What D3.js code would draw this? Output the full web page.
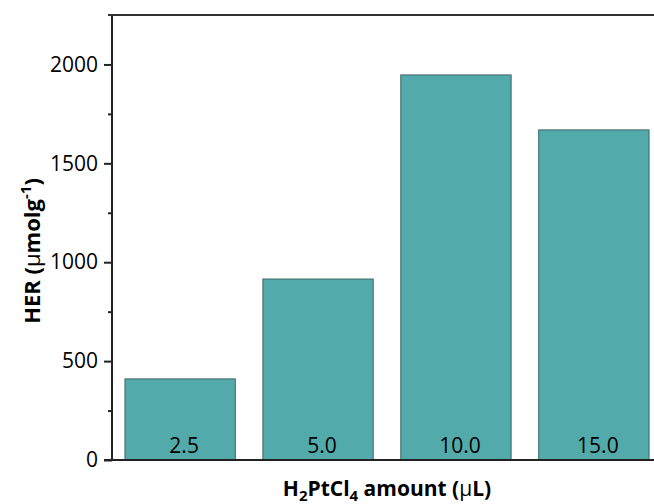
<!DOCTYPE html>
<html>
<head>
<meta charset="utf-8">
<script src="https://cdn.jsdelivr.net/npm/d3@7"></script>
<style>
  body { margin: 0; background: #fff; }
  svg { display: block; font-family: "Open Sans", sans-serif; }
</style>
</head>
<body>
<div id="chart"></div>
<script>
// data
var amounts = ["2.5", "5.0", "10.0", "15.0"];
var herValues = [410, 915, 1947, 1669];
var yTicks = [0, 500, 1000, 1500, 2000];
var yMinorTicks = [250, 750, 1250, 1750];

var svgW = 654;
var svgH = 504;
var margin = { top: 15, right: -8, bottom: 44, left: 112 };
var width = svgW - margin.left - margin.right;
var height = svgH - margin.top - margin.bottom;

var svg = d3.select("#chart")
  .append("svg")
  .attr("width", svgW)
  .attr("height", svgH);

var g = svg.append("g")
  .attr("transform", `translate(${margin.left}, ${margin.top})`);

// scales
var x = d3.scaleBand()
  .domain(amounts)
  .range([0, width])
  .paddingInner(0.2)
  .paddingOuter(0.094);

var y = d3.scaleLinear()
  .domain([0, 2250])
  .range([height, 0]);

// bars
g.selectAll("rect.bar")
  .data(amounts)
  .enter()
  .append("rect")
  .attr("class", "bar")
  .attr("x", d => x(d))
  .attr("y", (d, i) => y(herValues[i]))
  .attr("width", x.bandwidth())
  .attr("height", (d, i) => y(0) - y(herValues[i]))
  .attr("fill", "#52aaaa")
  .attr("stroke", "#3f6464")
  .attr("stroke-width", 1);

// labels inside the bars
g.selectAll("text.lbl")
  .data(amounts)
  .enter()
  .append("text")
  .attr("class", "lbl")
  .attr("x", d => x(d) + x.bandwidth() / 2 + 4)
  .attr("y", y(0) - 7)
  .attr("text-anchor", "middle")
  .attr("font-size", "21px")
  .attr("fill", "#000")
  .text(d => d);

// y axis, major and minor ticks
var yAxis = d3.axisLeft(y).tickValues(yTicks).tickSize(8).tickPadding(6).tickFormat(d3.format("d"));
var yAxisG = g.append("g").call(yAxis);
yAxisG.select(".domain").remove();
yAxisG.selectAll(".tick line").attr("stroke", "#222").attr("stroke-width", 2);
yAxisG.selectAll(".tick text")
  .attr("font-size", "21px")
  .attr("font-family", "Open Sans, sans-serif")
  .attr("fill", "#000");

g.append("g")
  .call(d3.axisLeft(y).tickValues(yMinorTicks).tickSize(4).tickFormat(""))
  .call(a => a.select(".domain").remove())
  .selectAll(".tick line").attr("stroke", "#222").attr("stroke-width", 2);

// frame: left axis line, bottom axis line, top line
g.append("line")
  .attr("x1", 0).attr("x2", 0)
  .attr("y1", 0).attr("y2", height + 1)
  .attr("stroke", "#222").attr("stroke-width", 2);
g.append("line")
  .attr("x1", -8).attr("x2", width)
  .attr("y1", height).attr("y2", height)
  .attr("stroke", "#222").attr("stroke-width", 2);
g.append("line")
  .attr("x1", -4).attr("x2", width)
  .attr("y1", 0).attr("y2", 0)
  .attr("stroke", "#333").attr("stroke-width", 2);

// axis titles
var yTitle = svg.append("text")
  .attr("transform", `translate(40, 251) rotate(-90)`)
  .attr("text-anchor", "middle")
  .attr("font-size", "22px")
  .attr("font-weight", "bold")
  .attr("fill", "#000");
yTitle.append("tspan").text("HER (");
yTitle.append("tspan").attr("font-weight", "normal").text("\u03bc");
yTitle.append("tspan").text("molg");
yTitle.append("tspan").attr("font-size", "15px").attr("dy", "-9").text("-1");
yTitle.append("tspan").attr("dy", "9").text(")");

var xTitle = svg.append("text")
  .attr("x", 387)
  .attr("y", 496)
  .attr("text-anchor", "middle")
  .attr("font-size", "21px")
  .attr("font-weight", "bold")
  .attr("fill", "#000");
xTitle.append("tspan").text("H");
xTitle.append("tspan").attr("font-size", "15px").attr("dy", "5").text("2");
xTitle.append("tspan").attr("dy", "-5").text("PtCl");
xTitle.append("tspan").attr("font-size", "15px").attr("dy", "5").text("4");
xTitle.append("tspan").attr("dy", "-5").text(" amount (");
xTitle.append("tspan").attr("font-weight", "normal").text("\u03bc");
xTitle.append("tspan").text("L)");
</script>
</body>
</html>
